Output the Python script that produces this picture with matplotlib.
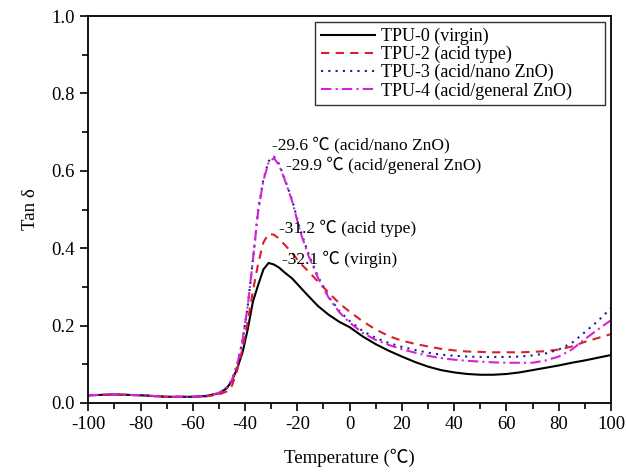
import matplotlib
matplotlib.use("Agg")
import matplotlib.pyplot as plt
from matplotlib.ticker import MultipleLocator, FormatStrFormatter

# === Data ===
temps = [-100, -90, -80, -70, -60, -55, -50, -47, -45, -43, -41, -39, -37, -35,
         -33, -31, -29, -27, -25, -22, -19, -16, -12, -8, -4, 0, 5, 10, 15, 20,
         25, 30, 35, 40, 45, 50, 55, 60, 65, 70, 75, 80, 85, 90, 95, 100]

tpu0 = [0.020, 0.022, 0.020, 0.016, 0.016, 0.018, 0.025, 0.038, 0.058, 0.090,
        0.130, 0.190, 0.262, 0.305, 0.345, 0.362, 0.358, 0.350, 0.338, 0.322,
        0.300, 0.278, 0.250, 0.228, 0.210, 0.196, 0.172, 0.152, 0.135, 0.120,
        0.106, 0.094, 0.085, 0.079, 0.075, 0.073, 0.073, 0.075, 0.079, 0.085,
        0.091, 0.097, 0.104, 0.110, 0.117, 0.124]

tpu2 = [0.020, 0.022, 0.020, 0.016, 0.016, 0.017, 0.022, 0.030, 0.045, 0.085,
        0.140, 0.210, 0.290, 0.360, 0.415, 0.437, 0.435, 0.425, 0.410, 0.388,
        0.362, 0.342, 0.313, 0.285, 0.258, 0.236, 0.211, 0.190, 0.173, 0.161,
        0.153, 0.146, 0.140, 0.136, 0.133, 0.132, 0.131, 0.131, 0.131, 0.132,
        0.134, 0.138, 0.146, 0.158, 0.168, 0.178]

tpu3 = [0.020, 0.022, 0.020, 0.016, 0.016, 0.018, 0.026, 0.040, 0.060, 0.100,
        0.160, 0.250, 0.370, 0.500, 0.578, 0.625, 0.637, 0.618, 0.582, 0.525,
        0.450, 0.390, 0.325, 0.275, 0.238, 0.212, 0.186, 0.168, 0.155, 0.145,
        0.137, 0.130, 0.125, 0.122, 0.120, 0.119, 0.119, 0.119, 0.120, 0.123,
        0.128, 0.138, 0.155, 0.183, 0.212, 0.245]

tpu4 = [0.020, 0.022, 0.020, 0.016, 0.016, 0.018, 0.026, 0.040, 0.060, 0.100,
        0.160, 0.250, 0.370, 0.495, 0.575, 0.622, 0.633, 0.615, 0.580, 0.522,
        0.445, 0.385, 0.322, 0.272, 0.235, 0.208, 0.181, 0.163, 0.150, 0.139,
        0.130, 0.122, 0.116, 0.112, 0.109, 0.107, 0.105, 0.104, 0.104, 0.104,
        0.110, 0.120, 0.138, 0.165, 0.190, 0.214]

labels = ["TPU-0 (virgin)", "TPU-2 (acid type)", "TPU-3 (acid/nano ZnO)",
          "TPU-4 (acid/general ZnO)"]

peak_notes = ["-29.6 \u2103 (acid/nano ZnO)", "-29.9 \u2103 (acid/general ZnO)",
              "-31.2 \u2103 (acid type)", "-32.1 \u2103 (virgin)"]
note_x = [-29.8, -24.5, -27.2, -26.0]
note_y = [0.667, 0.615, 0.452, 0.370]

FONTS = ["Liberation Serif", "Noto Sans CJK SC", "DejaVu Sans"]
plt.rcParams["font.family"] = FONTS
plt.rcParams["axes.unicode_minus"] = False


def main():
    fig = plt.figure(figsize=(6.26, 4.73), dpi=100)
    ax = fig.add_axes([0.141, 0.148, 0.835, 0.818])

    ax.plot(temps, tpu0, color="black", lw=1.5, ls="-", label=labels[0])
    ax.plot(temps, tpu2, color="#d8202c", lw=1.5, ls=(0, (4, 3)), label=labels[1])
    ax.plot(temps, tpu3, color="#1c1c90", lw=1.5, ls=(0, (1, 2.5)), label=labels[2])
    ax.plot(temps, tpu4, color="#d820d8", lw=1.5, ls=(0, (5, 2, 1, 2)), label=labels[3])

    # annotations des pics
    for txt, x, y in zip(peak_notes, note_x, note_y):
        ax.text(x, y, txt, fontsize=12.5, va="center", ha="left")

    ax.set_xlim(-100, 100)
    ax.set_ylim(0.0, 1.0)
    ax.xaxis.set_major_locator(MultipleLocator(20))
    ax.xaxis.set_minor_locator(MultipleLocator(10))
    ax.yaxis.set_major_locator(MultipleLocator(0.2))
    ax.yaxis.set_minor_locator(MultipleLocator(0.1))
    ax.yaxis.set_major_formatter(FormatStrFormatter("%.1f"))
    ax.tick_params(which="major", direction="out", length=6, width=1.2,
                   labelsize=13.5, top=False, right=False)
    ax.tick_params(which="minor", direction="out", length=4, width=1.2,
                   top=False, right=False)
    for sp in ax.spines.values():
        sp.set_linewidth(1.3)

    ax.set_xlabel("Temperature (\u2103)", fontsize=13.5, labelpad=11)
    ax.set_ylabel("Tan \u03b4", fontsize=13.5, labelpad=9)

    # === Legend ===
    leg = ax.legend(loc="upper left", fontsize=13, frameon=True, fancybox=False,
                    edgecolor="black", handlelength=3.0, borderpad=0.3,
                    labelspacing=0.05, handletextpad=0.35, mode="expand",
                    borderaxespad=0.0,
                    bbox_to_anchor=(0.434, 0.767, 0.5545, 0.217))
    leg.get_frame().set_linewidth(1.0)

    fig.savefig("out.png", dpi=100)


if __name__ == "__main__":
    main()
